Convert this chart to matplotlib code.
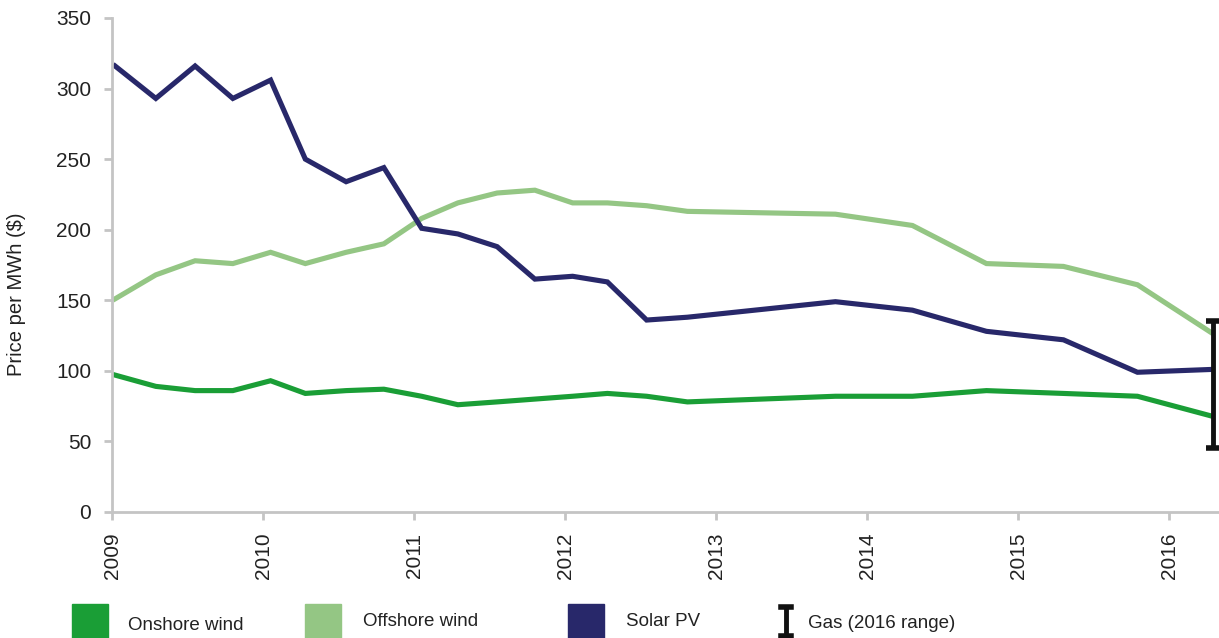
import matplotlib.pyplot as plt
from matplotlib.patches import Rectangle
from matplotlib.lines import Line2D

plt.rcParams['font.family'] = ['Liberation Sans', 'DejaVu Sans']

# Даты (доли года) и цены
dates = [2009.02, 2009.29, 2009.55, 2009.80, 2010.05, 2010.28, 2010.55, 2010.80,
         2011.05, 2011.29, 2011.55, 2011.80, 2012.05, 2012.28, 2012.54, 2012.81,
         2013.79, 2014.30, 2014.79, 2015.30, 2015.79, 2016.28]
onshore = [97, 89, 86, 86, 93, 84, 86, 87,
           82, 76, 78, 80, 82, 84, 82, 78,
           82, 82, 86, 84, 82, 68]
offshore = [151, 168, 178, 176, 184, 176, 184, 190,
            208, 219, 226, 228, 219, 219, 217, 213,
            211, 203, 176, 174, 161, 127]
solar = [316, 293, 316, 293, 306, 250, 234, 244,
         201, 197, 188, 165, 167, 163, 136, 138,
         149, 143, 128, 122, 99, 101]
gas_year = 2016.29
gas_low, gas_high = 45, 135
years = [2009, 2010, 2011, 2012, 2013, 2014, 2015, 2016]

c_on = '#1a9e36'
c_off = '#94c684'
c_sol = '#28286a'
grey = '#c4c4c4'
txt = '#222222'

fig = plt.figure(figsize=(12.19, 6.38), dpi=100)
ax = fig.add_axes([0.0919, 0.1975, 0.9081, 0.7743])

ax.plot(dates, offshore, color=c_off, lw=3.7, solid_joinstyle='miter')
ax.plot(dates, onshore, color=c_on, lw=3.7, solid_joinstyle='miter')
ax.plot(dates, solar, color=c_sol, lw=3.7, solid_joinstyle='miter')

# Диапазон цен на газ в 2016 году
ax.errorbar([gas_year], [(gas_low + gas_high) / 2], yerr=[[(gas_high - gas_low) / 2]],
            fmt='none', ecolor='#111111', elinewidth=3.5, capsize=5, capthick=4,
            clip_on=False)

ax.set_xlim(2009, 2016.33)
ax.set_ylim(0, 350)
ax.set_xticks(years)
ax.set_xticklabels([str(y) for y in years], rotation=90, fontsize=15, color=txt)
ax.set_yticks(range(0, 351, 50))
ax.tick_params(axis='y', labelsize=15, colors=grey, labelcolor=txt, length=6, width=2, pad=9)
ax.tick_params(axis='x', colors=grey, labelcolor=txt, length=6, width=2, pad=9)
ax.set_ylabel('Price per MWh ($)', fontsize=14.5, color=txt)
ax.yaxis.set_label_coords(-0.078, 0.44)

for s in ['top', 'right']:
    ax.spines[s].set_visible(False)
for s in ['left', 'bottom']:
    ax.spines[s].set_color(grey)
    ax.spines[s].set_linewidth(2)

# Легенда внизу
W, H = 1219, 638
items = [(72, c_on, 128, 625, 'Onshore wind'),
         (305, c_off, 363, 621, 'Offshore wind'),
         (568, c_sol, 626, 622, 'Solar PV')]
for px, col, tx, ty, label in items:
    fig.add_artist(Rectangle((px / W, 0), 36 / W, 34 / H, color=col,
                             transform=fig.transFigure))
    fig.text(tx / W, 1 - ty / H, label, fontsize=13.5, color=txt, va='center')
fig.add_artist(Line2D([786 / W, 786 / W], [1 - 607 / H, 1 - 636 / H], color='#111111',
                      lw=3.5, transform=fig.transFigure))
for yy in [607, 636]:
    fig.add_artist(Line2D([781 / W, 791 / W], [1 - yy / H, 1 - yy / H], color='#111111',
                          lw=4, transform=fig.transFigure))
fig.text(808 / W, 1 - 623 / H, 'Gas (2016 range)', fontsize=13.5, color=txt, va='center')

plt.savefig('out.png')
